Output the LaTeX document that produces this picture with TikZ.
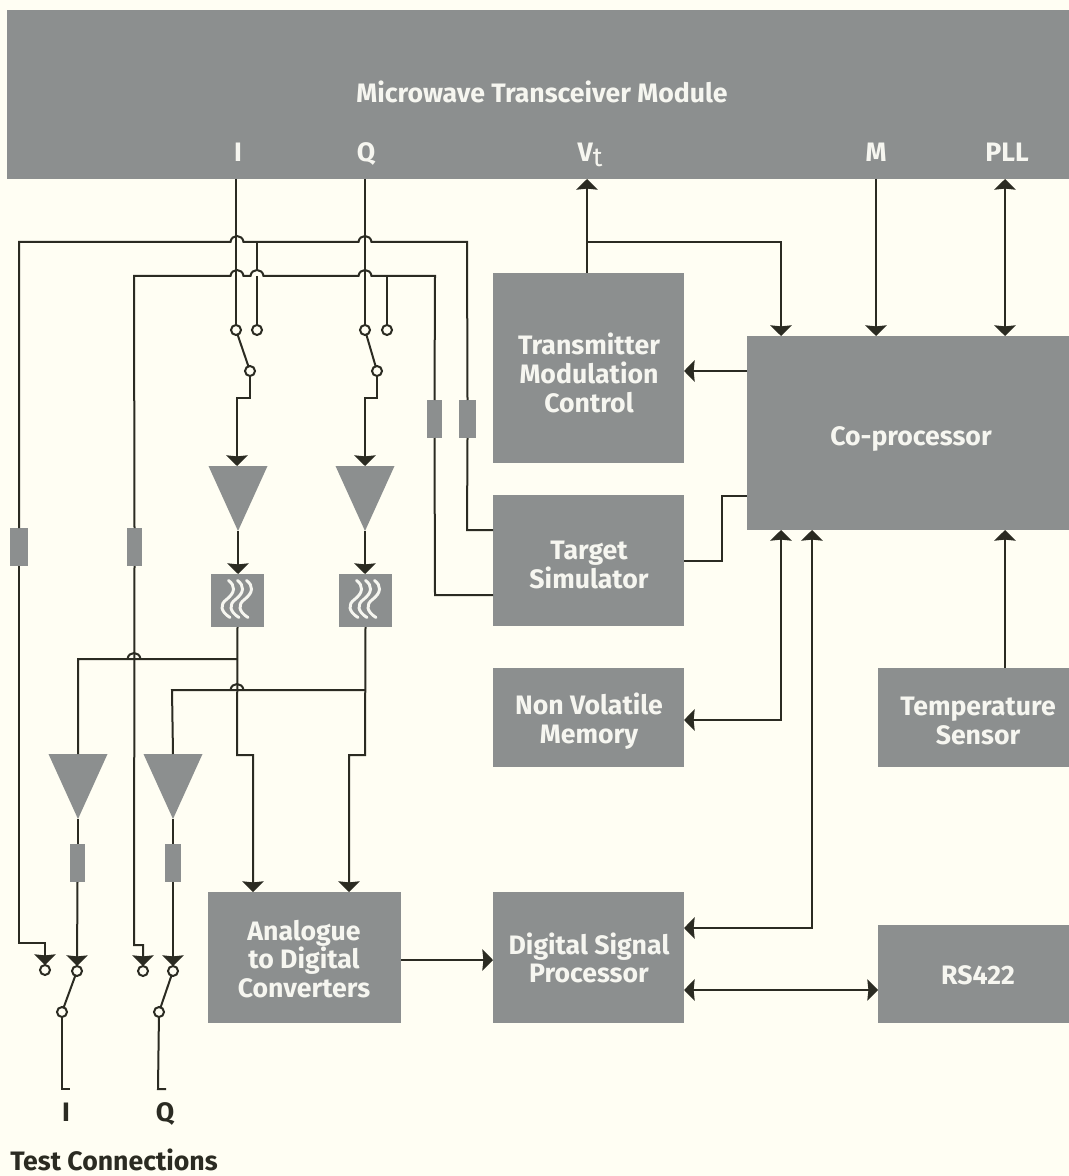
\documentclass[tikz,border=0pt]{standalone}
\usepackage{fontspec}
\setmainfont{Fira Sans}
\usetikzlibrary{arrows.meta}
\definecolor{bgc}{HTML}{FFFEF3}
\definecolor{gr}{HTML}{8C8F8F}
\definecolor{ln}{HTML}{2B2B22}
\definecolor{wt}{HTML}{F6F6F0}
\tikzset{
  conn/.style={draw=ln,line width=1.5pt,line join=miter},
  arr/.style={conn,-{Stealth[inset=0.8pt,length=8pt,width=16pt]}},
  darr/.style={conn,{Stealth[inset=0.8pt,length=8pt,width=16pt]}-{Stealth[inset=0.8pt,length=8pt,width=16pt]}},
  box/.style={fill=gr,text=wt,inner sep=0pt,outer sep=0pt,align=center},
  boxt/.style={text=wt,inner sep=0pt,outer sep=0pt,align=center,font=\fontsize{20}{21.6}\selectfont\bfseries},
  lab/.style={text=wt,inner sep=0pt,font=\fontsize{20}{22}\selectfont\bfseries},
  dlab/.style={text=ln,inner sep=0pt,font=\fontsize{20}{22}\selectfont\bfseries},
  sw/.style={circle,draw=ln,line width=1.5pt,fill=bgc,minimum size=7.5pt,inner sep=0pt,outer sep=0pt},
  res/.style={fill=gr,inner sep=0pt,outer sep=0pt},
  ampf/.style={fill=gr},
  wave/.style={draw=wt,line width=2.2pt,line cap=round}
}
% #6 text, #7 and #8 its centre
\newcommand{\boxn}[8]{\node[box,minimum width={(#4-#2)*0.75pt},minimum height={(#5-#3)*0.75pt}] (#1) at ({(#2+#4)/2},{(#3+#5)/2}) {};
  \node[boxt] (#1t) at (#7,#8) {#6};}
\newcommand{\resn}[5]{\node[res,minimum width={(#4-#2)*0.75pt},minimum height={(#5-#3)*0.75pt}] (#1) at ({(#2+#4)/2},{(#3+#5)/2}) {};}
\newcommand{\ampn}[3]{%
  \coordinate (#1in) at (#2,#3);
  \coordinate (#1out) at (#2,#3+65);
  \fill[ampf] ({#2-29.5},#3) -- ({#2+29.5},#3) -- (#1out) -- cycle;}
\newcommand{\filt}[3]{%
  \node[res,minimum width=39.75pt,minimum height=39.75pt] (#1) at (#2,#3) {};
  \foreach \d in {0,9,18}{
    \draw[wave] ({#2+\d-9},{#3-20}) .. controls ({#2+\d-2},{#3-15}) and ({#2+\d-2},{#3-8}) .. ({#2+\d-11},{#3-1})
      .. controls ({#2+\d-18},{#3+4}) and ({#2+\d-17},{#3+11}) .. ({#2+\d-7.5},{#3+17});
  }}
\begin{document}
\begin{tikzpicture}[x=0.75pt,y=-0.75pt]
\useasboundingbox (0,0) rectangle (1069,1176);
\fill[bgc] (0,0) rectangle (1069,1176);
% main boxes
\boxn{mod}{7}{10}{1069}{179}{Microwave Transceiver Module}{542}{92}
\node[lab] (lI) at (238,152) {I};
\node[lab] (lQ) at (366,154) {Q};
\node[lab] (lV) at (590,155) {V\raisebox{-4pt}{\mdseries t}};
\node[lab] (lM) at (876,152) {M};
\node[lab] (lP) at (1007,152) {PLL};
\boxn{tmc}{493}{273}{684}{463}{Transmitter\\Modulation\\Control}{589}{373}
\boxn{ts}{493}{495}{684}{626}{Target\\Simulator}{589}{565}
\boxn{nvm}{493}{668}{684}{767}{Non Volatile\\Memory}{589}{721}
\boxn{adc}{208}{892}{401}{1023}{Analogue\\to Digital\\Converters}{304}{959}
\boxn{dsp}{493}{892}{684}{1023}{Digital Signal\\Processor}{589}{958}
\boxn{rs}{878}{925}{1069}{1023}{RS422}{978}{975}
\boxn{tmp}{878}{668}{1069}{767}{Temperature\\Sensor}{978}{721}
\boxn{cop}{747}{336}{1069}{530}{Co-processor}{911}{439}
% x / y guide coordinates
\coordinate (xV) at (587,0); \coordinate (xA) at (781,0); \coordinate (xM) at (876,0);
\coordinate (xP) at (1005,0); \coordinate (xD) at (812,0);
\coordinate (yA) at (0,242);
% right-hand connectors
\draw[arr] (tmc.north -| xV) -- (mod.south -| xV);
\draw[arr] (xV |- yA) -- (xA |- yA) -- (cop.north -| xA);
\draw[arr] (mod.south -| xM) -- (cop.north -| xM);
\draw[darr] (mod.south -| xP) -- (cop.north -| xP);
\draw[arr] (cop.west |- 0,371) -- (tmc.east |- 0,371);
\draw[conn] (ts.east |- 0,561) -- (722,561) -- (722,496) -- (cop.west |- 0,496);
\draw[darr] (nvm.east |- 0,720) -- (xA |- 0,720) -- (cop.south -| xA);
\draw[darr] (dsp.east |- 0,928) -- (xD |- 0,928) -- (cop.south -| xD);
\draw[darr] (dsp.east |- 0,990) -- (rs.west |- 0,990);
\draw[arr] (adc.east |- 0,960) -- (dsp.west |- 0,960);
\draw[arr] (tmp.north -| xP) -- (cop.south -| xP);
% input switches
\node[sw] (s1a) at (236,330) {}; \node[sw] (s1b) at (257,330) {}; \node[sw] (s1c) at (250,371) {};
\node[sw] (s2a) at (365,330) {}; \node[sw] (s2b) at (387,330) {}; \node[sw] (s2c) at (377,371) {};
\draw[conn] (s1a) -- (s1c); \draw[conn] (s2a) -- (s2c);
% amplifiers and filters
\ampn{a1}{238}{466}
\ampn{a2}{365}{466}
\filt{f1}{237.5}{600.5}
\filt{f2}{365.5}{600.5}
\draw[conn] (mod.south -| s1a) -- (s1a);
\draw[conn] (mod.south -| s2a) -- (s2a);
\draw[arr] (s1c) -- (250,398) -- (237,398) -- (237,466);
\draw[arr] (s2c) -- (377,398) -- (365,398) -- (a2in);
\draw[arr] (a1out) -- (f1.north -| a1out);
\draw[arr] (a2out) -- (f2.north -| a2out);
% resistors
\resn{r1}{10}{528}{28}{566}
\resn{r2}{127}{528}{142}{566}
\resn{r3}{427}{400}{442}{438}
\resn{r4}{459}{400}{476}{438}
\resn{r5}{70}{844}{85}{882}
\resn{r6}{165}{844}{181}{882}
% test switches
\node[sw] (t1) at (45,970) {}; \node[sw] (t2) at (77,971) {}; \node[sw] (t3) at (62,1012) {};
\node[sw] (t4) at (143,971) {}; \node[sw] (t5) at (173,971) {}; \node[sw] (t6) at (159,1012) {};
\draw[conn] (t2) -- (t3); \draw[conn] (t5) -- (t6);
% feedback bus lines with hops
\newcommand{\hop}[2]{-- ({#1-6.5},#2) .. controls ({#1-5.5},{#2-8}) and ({#1+5.5},{#2-8}) .. ({#1+6.5},#2)}
\draw[conn] (r1.north) -- (19,242) \hop{237}{242} \hop{365}{242} -- (467,242) -- (r4.north);
\draw[conn] (r4.south) -- (467,530) -- (ts.west |- 0,530);
\draw[conn] (r2.north) -- (134,276) \hop{237}{276} \hop{257}{276} \hop{365}{276} -- (435,276) -- (r3.north);
\draw[conn] (r3.south) -- (435,595) -- (ts.west |- 0,595);
\draw[conn] (257,242) -- (257,270); \draw[conn] (257,276) -- (s1b);
\draw[conn] (387,276) -- (s2b);
\draw[arr] (r1.south) -- (19,943) -- (45,943) -- (t1.north);
\draw[arr] (r2.south) -- (134,945) -- (143,945) -- (t4.north);
% outputs of the filters
\draw[arr] (f1.south) -- (237,755) -- (253,755) -- (adc.north -| 253,0);
\draw[arr] (f2.south) -- (365,755) -- (349,755) -- (adc.north -| 349,0);
\ampn{a3}{78}{754}
\ampn{a4}{173}{754}
\draw[conn] (237,659) \hop{134}{659} -- (78,659) -- (a3in);
\draw[conn] (365,690) \hop{237}{690} -- (172,690) -- (a4in);
\draw[conn] (a3out) -- (r5.north -| a3out);
\draw[conn] (a4out) -- (r6.north -| a4out);
\draw[arr] (r5.south) -- (t2.north);
\draw[arr] (r6.south) -- (t5.north);
% test outputs
\draw[conn] (t3) -- (62,1089) -- (70,1089);
\draw[conn] (t6) -- (158,1089) -- (166,1089);
\node[dlab] (tI) at (66,1112) {I};
\node[dlab] (tQ) at (165,1114) {Q};
\node[dlab] (tc) at (114,1160) {Test Connections};
\end{tikzpicture}
\end{document}
